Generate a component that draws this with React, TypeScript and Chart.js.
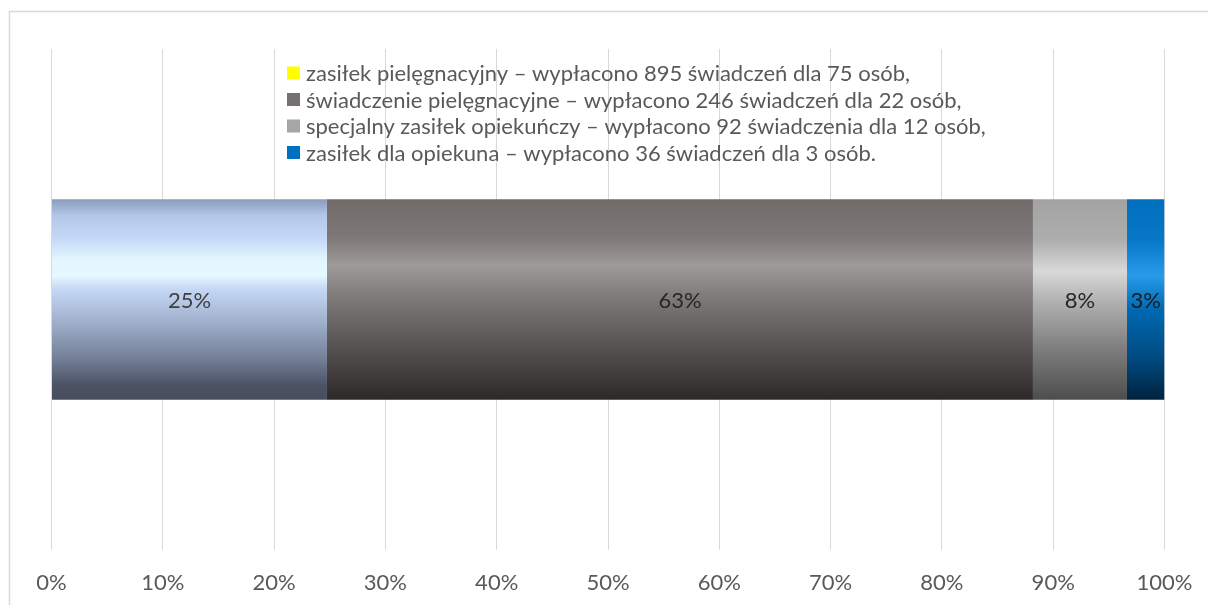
import React, { useEffect, useRef } from "react";
import { Chart, registerables } from "chart.js";

Chart.register(...registerables);

const categories = [""];
const seriesNames = [
  "zasiłek pielęgnacyjny – wypłacono 895 świadczeń dla 75 osób,",
  "świadczenie pielęgnacyjne – wypłacono 246 świadczeń dla 22 osób,",
  "specjalny zasiłek opiekuńczy – wypłacono 92 świadczenia dla 12 osób,",
  "zasiłek dla opiekuna – wypłacono 36 świadczeń dla 3 osób.",
];
const seriesValues = [24.75, 63.43, 8.45, 3.37];
const valueLabels = ["25%", "63%", "8%", "3%"];
const legendSwatches = ["#FFFF00", "#767171", "#A6A6A6", "#0070C0"];
const labelColors = ["#404040", "#262626", "#262626", "#1a1a1a"];
const tickValues = [0, 10, 20, 30, 40, 50, 60, 70, 80, 90, 100];

const FONT = "Lato, 'Noto Sans', sans-serif";
const FONT_SIZE = 22;
const BAR_FRACTION = 0.4;

const gradientStops: Array<Array<[number, string]>> = [
  [
    [0, "#8A9CBC"],
    [0.08, "#B3C6E8"],
    [0.2, "#C6D9F7"],
    [0.3, "#E3F6FF"],
    [0.38, "#E6F8FF"],
    [0.45, "#C4D7F4"],
    [0.6, "#A3B3CF"],
    [0.8, "#717E95"],
    [0.93, "#4B5264"],
    [1, "#474D5B"],
  ],
  [
    [0, "#716B6A"],
    [0.18, "#7C7776"],
    [0.33, "#9E9A99"],
    [0.5, "#7D7878"],
    [0.8, "#4C4847"],
    [1, "#2D2929"],
  ],
  [
    [0, "#A3A3A3"],
    [0.2, "#ADADAD"],
    [0.36, "#D8D8D8"],
    [0.5, "#B3B3B3"],
    [0.75, "#7D7D7D"],
    [1, "#4D4D4D"],
  ],
  [
    [0, "#006FBE"],
    [0.2, "#0777C6"],
    [0.38, "#279BEA"],
    [0.55, "#0069B2"],
    [0.8, "#00497F"],
    [1, "#00233E"],
  ],
];

function makeGradient(chart: any, idx: number) {
  const area = chart.chartArea;
  if (!area) return legendSwatches[idx];
  const h = area.bottom - area.top;
  const top = area.top + (h * (1 - BAR_FRACTION)) / 2;
  const bottom = top + h * BAR_FRACTION;
  const g = chart.ctx.createLinearGradient(0, top, 0, bottom);
  for (const [t, c] of gradientStops[idx]) g.addColorStop(t, c);
  return g;
}

const framePlugin = {
  id: "frame",
  beforeDraw(chart: any) {
    const ctx = chart.ctx;
    ctx.save();
    ctx.strokeStyle = "#D9D9D9";
    ctx.lineWidth = 1.5;
    ctx.beginPath();
    ctx.moveTo(1.5, chart.height + 10);
    ctx.lineTo(1.5, 3.5);
    ctx.lineTo(chart.width + 10, 3.5);
    ctx.stroke();
    ctx.restore();
  },
};

const legendPlugin = {
  id: "customLegend",
  afterDraw(chart: any) {
    const ctx = chart.ctx;
    ctx.save();
    ctx.font = `${FONT_SIZE}px ${FONT}`;
    ctx.textBaseline = "middle";
    ctx.textAlign = "left";
    const x0 = 279;
    const y0 = 65;
    const step = 26.5;
    seriesNames.forEach((name, i) => {
      const y = y0 + i * step;
      ctx.fillStyle = legendSwatches[i];
      ctx.fillRect(x0, y - 6.5, 13, 13);
      ctx.fillStyle = "#595959";
      ctx.fillText(name, x0 + 19, y + 1);
    });
    ctx.restore();
  },
};

const valueLabelPlugin = {
  id: "valueLabels",
  afterDatasetsDraw(chart: any) {
    const ctx = chart.ctx;
    ctx.save();
    ctx.font = `${FONT_SIZE}px ${FONT}`;
    ctx.textAlign = "center";
    ctx.textBaseline = "middle";
    chart.data.datasets.forEach((ds: any, i: number) => {
      const meta = chart.getDatasetMeta(i);
      meta.data.forEach((bar: any) => {
        const cx = (bar.x + bar.base) / 2;
        ctx.fillStyle = labelColors[i];
        ctx.fillText(valueLabels[i], cx, bar.y + 1);
      });
    });
    ctx.restore();
  },
};

export default function App() {
  const ref = useRef<HTMLCanvasElement | null>(null);
  useEffect(() => {
    document.documentElement.style.overflow = "hidden";
    document.body.style.overflow = "hidden";
    document.body.style.margin = "0";
    if (!ref.current) return;
    const chart = new Chart(ref.current, {
      type: "bar",
      data: {
        labels: categories,
        datasets: seriesNames.map((name, i) => ({
          label: name,
          data: [seriesValues[i]],
          backgroundColor: (c: any) => makeGradient(c.chart, i),
          borderWidth: 0,
          barPercentage: BAR_FRACTION,
          categoryPercentage: 1,
        })),
      },
      options: {
        indexAxis: "y",
        animation: false,
        responsive: true,
        maintainAspectRatio: false,
        layout: { padding: { left: 43.5, right: 43.5, top: 41, bottom: 0 } },
        plugins: {
          legend: { display: false },
          tooltip: { enabled: false },
        },
        scales: {
          x: {
            type: "linear",
            stacked: true,
            min: 0,
            max: 100,
            afterBuildTicks(scale: any) {
              scale.ticks = tickValues.map((v) => ({ value: v }));
            },
            afterFit(scale: any) {
              scale.height = 55;
              scale.paddingLeft = 0;
              scale.paddingRight = 0;
            },
            grid: { color: "#D9D9D9", lineWidth: 1, drawTicks: false },
            border: { display: false },
            ticks: {
              padding: 20,
              color: "#595959",
              font: { family: FONT, size: FONT_SIZE },
              callback: (v: any) => `${v}%`,
            },
          },
          y: {
            type: "category",
            stacked: true,
            display: false,
          },
        },
      },
      plugins: [framePlugin, legendPlugin, valueLabelPlugin],
    } as any);
    return () => chart.destroy();
  }, []);
  return (
    <div style={{ paddingLeft: 8, paddingTop: 8, width: 1200, height: 597 }}>
      <div style={{ width: 1200, height: 597, position: "relative" }}>
        <canvas ref={ref} />
      </div>
    </div>
  );
}
